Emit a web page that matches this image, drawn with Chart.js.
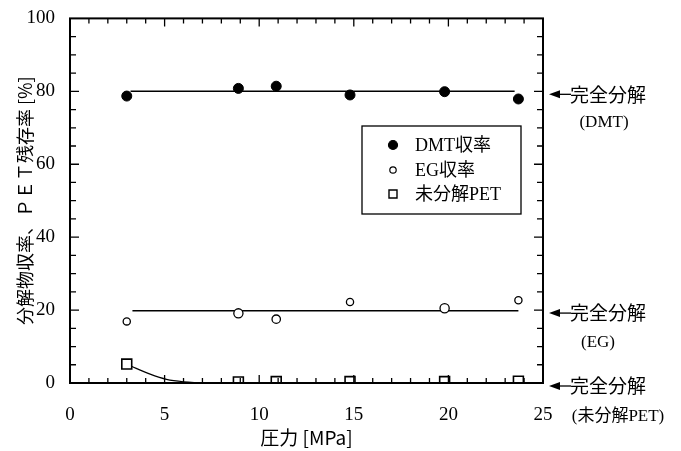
<!DOCTYPE html>
<html>
<head>
<meta charset="utf-8">
<script src="https://cdn.jsdelivr.net/npm/chart.js@4"></script>
<style>
  body { margin: 0; background: #fff; }
  canvas { display: block; }
</style>
</head>
<body>
<canvas id="chart" width="681" height="451"></canvas>
<script>
// pressure [MPa]
const pressure = [3.0, 8.9, 10.9, 14.8, 19.8, 23.7];
const dmtYield = [78.7, 80.8, 81.4, 79.0, 79.9, 77.9];
const egYield = [16.9, 19.1, 17.5, 22.2, 20.5, 22.7];
const petLeft = [5.2, 0.3, 0.4, 0.4, 0.4, 0.5];

// fitted lines
const dmtFitX = [3.2, 23.5];
const dmtFitY = [80, 80];
const egFitX = [3.3, 23.7];
const egFitY = [19.8, 19.8];
const petFitX = [3.0, 3.5, 4.2, 5.1, 6.0, 7.4, 9.0, 23.7];
const petFitY = [5.2, 4.0, 2.5, 1.0, 0.35, 0.05, 0, 0];

const xTicks = [0, 5, 10, 15, 20, 25];
const yTicks = [0, 20, 40, 60, 80, 100];

const legendLabels = ["DMT収率", "EG収率", "未分解PET"];
const sideNotes = [
  { value: 80, main: "完全分解", sub: "(DMT)", subX: 604, subDy: 31 },
  { value: 20, main: "完全分解", sub: "(EG)", subX: 598, subDy: 32 },
  { value: 0, main: "完全分解", sub: "(未分解PET)", subX: 618, subDy: 34 },
];

const pts = (xs, ys) => xs.map((x, i) => ({ x: x, y: ys[i] }));

const serif = '"Liberation Serif", "Noto Sans CJK JP", serif';
const gothic = '"Noto Sans CJK JP", sans-serif';

const framePlugin = {
  id: "frame",
  afterDraw(chart) {
    const ctx = chart.ctx;
    const a = chart.chartArea;
    const xs = chart.scales.x;
    const ys = chart.scales.y;
    ctx.save();
    ctx.strokeStyle = "#000";
    ctx.lineWidth = 2;
    ctx.strokeRect(a.left, a.top, a.right - a.left, a.bottom - a.top);

    // inward ticks
    ctx.lineWidth = 1.3;
    ctx.beginPath();
    for (let v = 1; v < 25; v++) {
      const px = xs.getPixelForValue(v);
      const len = v % 5 === 0 ? 8 : 5;
      ctx.moveTo(px, a.bottom);
      ctx.lineTo(px, a.bottom - len);
      ctx.moveTo(px, a.top);
      ctx.lineTo(px, a.top + len);
    }
    for (let v = 5; v < 100; v += 5) {
      const py = ys.getPixelForValue(v);
      const len = v % 20 === 0 ? 9 : 6;
      ctx.moveTo(a.left, py);
      ctx.lineTo(a.left + len, py);
      ctx.moveTo(a.right, py);
      ctx.lineTo(a.right - len, py);
    }
    ctx.stroke();

    // legend box
    const lx = 362, ly = 126, lw = 159, lh = 88;
    ctx.fillStyle = "#fff";
    ctx.fillRect(lx, ly, lw, lh);
    ctx.lineWidth = 1.3;
    ctx.strokeRect(lx, ly, lw, lh);
    const rows = [145, 170, 194];
    ctx.font = "18px " + serif;
    ctx.textBaseline = "middle";
    ctx.textAlign = "left";
    chart.data.datasets.slice(0, 3).forEach((ds, i) => {
      ctx.fillStyle = "#000";
      ctx.fillText(legendLabels[i], 415, rows[i] + 1);
      ctx.beginPath();
      if (ds.pointStyle === "rect") {
        ctx.fillStyle = "#fff";
        ctx.rect(389, rows[i] - 4, 8, 8);
        ctx.fill();
        ctx.lineWidth = 1.4;
        ctx.stroke();
      } else {
        ctx.arc(393, rows[i], i === 0 ? 4.5 : 3.2, 0, Math.PI * 2);
        ctx.fillStyle = ds.pointBackgroundColor;
        ctx.fill();
        ctx.lineWidth = 1.2;
        ctx.stroke();
      }
    });

    // side notes with arrows
    sideNotes.forEach((n) => {
      const py = ys.getPixelForValue(n.value) + 3;
      ctx.fillStyle = "#000";
      ctx.beginPath();
      ctx.moveTo(549, py);
      ctx.lineTo(560, py - 4);
      ctx.lineTo(560, py + 4);
      ctx.closePath();
      ctx.fill();
      ctx.lineWidth = 1.3;
      ctx.beginPath();
      ctx.moveTo(559, py);
      ctx.lineTo(571, py);
      ctx.stroke();
      ctx.font = "19px " + gothic;
      ctx.textAlign = "left";
      ctx.fillText(n.main, 570, py);
      ctx.font = "17px " + serif;
      ctx.textAlign = "center";
      ctx.fillText(n.sub, n.subX, py + n.subDy - 3);
    });
    ctx.restore();
  },
};

new Chart(document.getElementById("chart"), {
  type: "scatter",
  data: {
    datasets: [
      {
        label: legendLabels[0],
        data: pts(pressure, dmtYield),
        pointStyle: "circle",
        pointRadius: 5,
        pointBackgroundColor: "#000",
        pointBorderColor: "#000",
        pointBorderWidth: 1,
        order: 0,
      },
      {
        label: legendLabels[1],
        data: pts(pressure, egYield),
        pointStyle: "circle",
        pointRadius: [3.6, 4.6, 4.2, 3.6, 4.6, 3.6],
        pointBackgroundColor: "#fff",
        pointBorderColor: "#000",
        pointBorderWidth: 1.3,
        order: 0,
      },
      {
        label: legendLabels[2],
        data: pts(pressure, petLeft),
        pointStyle: "rect",
        pointRadius: 7,
        pointBackgroundColor: "#fff",
        pointBorderColor: "#000",
        pointBorderWidth: 1.6,
        order: 0,
      },
      {
        label: "dmt fit",
        data: pts(dmtFitX, dmtFitY),
        showLine: true,
        pointRadius: 0,
        borderColor: "#000",
        borderWidth: 1.4,
        order: 1,
      },
      {
        label: "eg fit",
        data: pts(egFitX, egFitY),
        showLine: true,
        pointRadius: 0,
        borderColor: "#000",
        borderWidth: 1.4,
        order: 1,
      },
      {
        label: "pet fit",
        data: pts(petFitX, petFitY),
        showLine: true,
        cubicInterpolationMode: "monotone",
        pointRadius: 0,
        borderColor: "#000",
        borderWidth: 1.2,
        order: 1,
      },
    ],
  },
  options: {
    responsive: false,
    animation: false,
    devicePixelRatio: 1,
    layout: { padding: { top: 14, right: 138, left: 0, bottom: 0 } },
    plugins: {
      legend: { display: false },
      tooltip: { enabled: false },
    },
    scales: {
      x: {
        type: "linear",
        min: 0,
        max: 25,
        afterFit: (s) => { s.height = 68; },
        afterBuildTicks: (s) => { s.ticks = xTicks.map((v) => ({ value: v })); },
        grid: { display: false },
        border: { display: false },
        ticks: { color: "#000", padding: 13, font: { family: serif, size: 19 } },
        title: {
          display: true,
          text: "圧力 [MPa]",
          color: "#000",
          font: { family: gothic, size: 19 },
          padding: { top: 2, bottom: 2 },
        },
      },
      y: {
        type: "linear",
        min: 0,
        max: 100,
        afterFit: (s) => { s.width = 70; },
        afterBuildTicks: (s) => { s.ticks = yTicks.map((v) => ({ value: v })); },
        grid: { display: false },
        border: { display: false },
        ticks: { color: "#000", padding: 7, font: { family: serif, size: 19 } },
        title: {
          display: true,
          text: "分解物収率、ＰＥＴ残存率 [%]",
          color: "#000",
          font: { family: gothic, size: 18 },
          padding: { top: 14, bottom: 14 },
        },
      },
    },
  },
  plugins: [framePlugin],
});
</script>
</body>
</html>
